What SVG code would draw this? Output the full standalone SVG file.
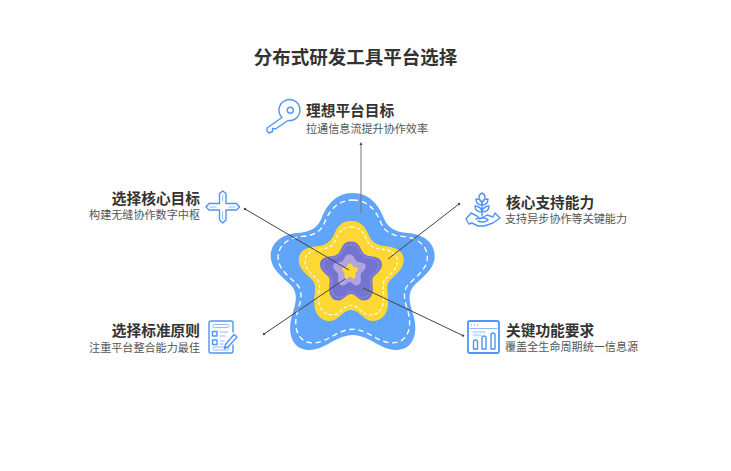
<svg xmlns="http://www.w3.org/2000/svg" width="731" height="471" viewBox="0 0 731 471">
<style>
.t{font-family:"Noto Sans CJK SC","Noto Sans",sans-serif;fill:#333}
.h{font-size:14.7px;font-weight:700}
.s{font-size:11.1px;fill:#555}
.ti{font-size:18.500px;font-weight:700}
.c{stroke:#444;stroke-width:1;fill:none}
.i{fill:none;stroke:#4f94f7;stroke-width:1.4;stroke-linecap:round;stroke-linejoin:round}
.j{fill:none;stroke:#8fbcfa;stroke-width:1;stroke-linecap:round;stroke-linejoin:round}
.d{fill:none;stroke:#fff;vector-effect:non-scaling-stroke}
</style>
<defs>
<path id="star" d="M0,-78C17,-78 26,-66 31,-53C35,-43 43,-39 55,-38C71,-37 82,-28 82,-15C82,-2 70,6 62,14C55,21 56,30 60,42C66,60 62,79 43,79C28,79 16,64 0,64C-16,64 -28,79 -43,79C-62,79 -66,60 -60,42C-56,30 -55,21 -62,14C-70,6 -82,-2 -82,-15C-82,-28 -71,-37 -55,-38C-43,-39 -35,-43 -31,-53C-26,-66 -17,-78 0,-78Z"/>
<path id="fat" d="M0,-50C10,-50 14,-44 17,-37C20,-30 24,-26 33,-25C45,-24 52.500,-20 52.500,-11C52.500,-2 44,4 39,9C34,14 37,22 37,30C37,42 32,50 21,50C13,50 8,39 0,39C-8,39 -13,50 -21,50C-32,50 -37,42 -37,30C-37,22 -34,14 -39,9C-44,4 -52.500,-2 -52.500,-11C-52.500,-20 -45,-24 -33,-25C-24,-26 -20,-30 -17,-37C-14,-44 -10,-50 0,-50Z"/>
</defs>
<rect width="731" height="471" fill="#fff"/>
<text class="t ti" x="355.500" y="64" text-anchor="middle">分布式研发工具平台选择</text>
<g id="star-core">
<g transform="translate(352.700,271)">
<use href="#star" fill="#60a5fa"/>
<use href="#star" class="d" transform="scale(.91)" stroke-width="1.5" stroke-dasharray="6 4"/>
</g>
<g transform="translate(351.200,271)">
<use href="#fat" fill="#fdd835"/>
<use href="#fat" class="d" transform="scale(.88)" stroke-width="1.200" stroke-dasharray="4 2.500"/>
</g>
<g transform="translate(351,271)">
<use href="#fat" fill="#7474d0" transform="scale(.59)"/>
<use href="#fat" class="d" transform="scale(.53)" stroke-width=".7" stroke-dasharray="2 1.500" opacity=".8"/>
</g>
<g transform="translate(349.500,270)">
<use href="#fat" fill="#b0a4de" transform="scale(.31)"/>
<use href="#fat" class="d" transform="scale(.26)" stroke-width=".6" stroke-dasharray="2 1.500" opacity=".4"/>
<use href="#fat" fill="#fdd835" transform="translate(.5,1) scale(.15)"/>
</g>
</g>
<g id="connectors">
<path class="c" d="M361,144V213" style="stroke:#777"/>
<path d="M361,142l-1.500,3h3z" fill="#444"/>
<path class="c" d="M245,209L349,270"/>
<path class="c" d="M459,204L388,259"/>
<path class="c" d="M264,334L345,279"/>
<path class="c" d="M463,335.600L363,288"/>
<circle cx="245" cy="209" r="1.200" fill="#444"/><circle cx="459" cy="204" r="1.200" fill="#444"/><circle cx="264" cy="334" r="1.200" fill="#444"/><circle cx="463" cy="335.600" r="1.200" fill="#444"/>
</g>
<g id="node-top">
<circle class="i" cx="290.300" cy="110.300" r="3"/>
<path class="i" stroke-width="1.600" d="M282,117.500A10.500,10.500 0 1 1 288,120.500L275.500,129L272.500,128.500L272.500,131.500L269,133L267,131L267,128Z"/>
<text class="t h" x="306" y="116">理想平台目标</text><text class="t s" x="306" y="133">拉通信息流提升协作效率</text>
</g>
<g id="node-left-top">
<path class="i" d="M222.700,191L226,193.500V203.500H236.500L239.500,207L236.500,210H226V220L222.700,223L219.500,220V210H209L206,207L209,203.500H219.500V193.500Z"/>
<path class="j" d="M222.700,195V201M222.700,212V219M210,207H216M229,207H235"/>
<text class="t h" x="200" y="204" text-anchor="end">选择核心目标</text><text class="t s" x="200" y="219" text-anchor="end">构建无缝协作数字中枢</text>
</g>
<g id="node-left-bottom">
<path class="i" d="M233,332V323Q233,321 231,321H211Q209,321 209,323V351Q209,353 211,353H231Q233,353 233,351V345"/>
<rect class="j" x="213" y="324.500" width="16" height="3" rx="1.500"/>
<rect class="j" x="213" y="347" width="16" height="3" rx="1.500"/>
<path class="i" stroke-width="1.100" d="M212.500,331.500h4.500v4.500h-4.500zM212.500,340h4.500v4.500h-4.500z"/>
<path class="j" d="M220,332h8M220,336h5M220,341h4M220,344h3"/>
<path class="i" d="M234,334.500L237,337L228,347L224.500,348.500L225.500,344.500Z"/>
<text class="t h" x="200" y="336" text-anchor="end">选择标准原则</text><text class="t s" x="200" y="352" text-anchor="end">注重平台整合能力最佳</text>
</g>
<g id="node-right-top">
<path class="i" d="M482,193C486,195 486,199 482,202C478,199 478,195 482,193ZM482,202V216M476,199C480,199 482,202 482,205C478,205 476,203 476,199ZM488,199C484,199 482,202 482,205C486,205 488,203 488,199ZM475,206C479,206 482,209 482,212C478,212 475,210 475,206ZM489,206C485,206 482,209 482,212C486,212 489,210 489,206Z"/>
<path class="i" d="M466,219L471,213L477,216L480,219L487,215L493,217L495,213L500,218L493,223L484,226H478L472,223L469,224ZM476,219C481,217 487,218 488,220C485,223 480,222 478,221"/>
<text class="t h" x="506" y="208">核心支持能力</text><text class="t s" x="505" y="223">支持异步协作等关键能力</text>
</g>
<g id="node-right-bottom">
<rect x="468" y="321" width="31" height="32" rx="2" class="i" style="stroke-width:1.800"/>
<path class="j" d="M470,328.500H497M473,332H485M473,335H481"/>
<path d="M471,325h1M474,325h1M477,325h1" stroke="#4f94f7" stroke-width="1.200" fill="none"/>
<path class="i" stroke-width="1" d="M473.500,349V342Q473.500,340 475.500,340Q477.500,340 477.500,342V349ZM482,349V338Q482,336 484,336Q486,336 486,338V349ZM491,349V335Q491,333 493,333Q495,333 495,335V349Z"/>
<text class="t h" x="506" y="336">关键功能要求</text><text class="t s" x="505" y="351">覆盖全生命周期统一信息源</text>
</g>
</svg>
